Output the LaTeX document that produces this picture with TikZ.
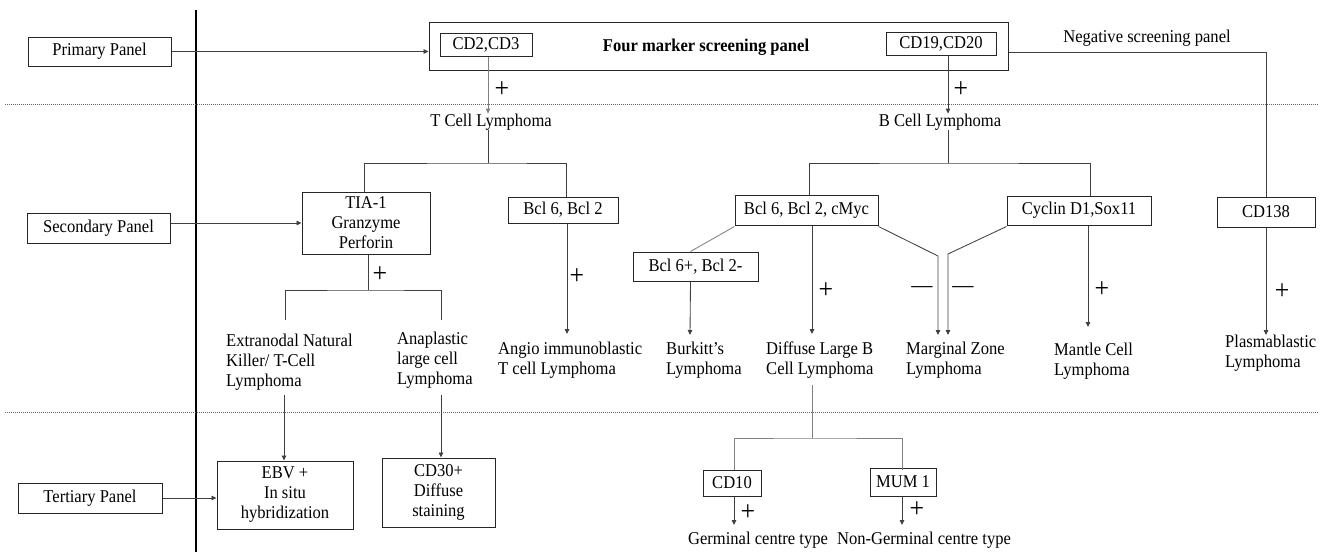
\documentclass[tikz,border=0pt]{standalone}
\usepackage{fontspec}
\setmainfont{Liberation Serif}[FakeStretch=0.92]
\usetikzlibrary{arrows.meta,calc}
\newcommand\myfs{\fontsize{18}{20}\selectfont}
\newcommand\mypl{\fontsize{28}{28}\selectfont}
\begin{document}
\begin{tikzpicture}[x=1pt,y=-1pt,
  box/.style={draw=black!85, line width=1pt, inner sep=0pt, align=center, font=\myfs},
  lbl/.style={inner sep=0pt, align=left, font=\myfs},
  ctr/.style={inner sep=0pt, align=center, font=\myfs},
  sgn/.style={inner sep=0pt, font=\mypl},
  conn/.style={draw=black!75, line width=0.85pt},
  lconn/.style={draw=black!50, line width=0.85pt},
  arr/.style={conn, -{Triangle[length=5pt,width=4.5pt]}},
  larr/.style={lconn, -{Triangle[length=5pt,width=4.5pt]}},
  sep/.style={draw=black!60, line width=0.6pt, dash pattern=on 1pt off 1pt}]
\useasboundingbox (0,0) rectangle (1328,552);
% separators
\draw[line width=2.4pt] (196,10) -- (196,552);
\draw[sep] (5,104) -- (1318,104);
\draw[sep] (5,412) -- (1318,412);
% panels
\node[box, minimum width=143, minimum height=29] (primary) at (99.5,51.5) {Primary Panel};
\node[box, minimum width=143, minimum height=30] (secondary) at (98.5,228) {Secondary Panel};
\node[box, minimum width=144, minimum height=30] (tertiary) at (90,498) {Tertiary Panel};
% primary level
\node[box, minimum width=579, minimum height=48] (main) at (718.5,46.5) {};
\node[box, minimum width=92, minimum height=23] (cd23) at (486,44.5) {CD2,CD3};
\node[box, minimum width=110, minimum height=23] (cd1920) at (941,44) {CD19,CD20};
\node[ctr, font=\myfs\bfseries] (four) at (706,47) {Four marker screening panel};
\node[ctr] (neg) at (1147,38) {Negative screening panel};
\node[ctr] (tcell) at (491,122) {T Cell Lymphoma};
\node[ctr] (bcell) at (940,122) {B Cell Lymphoma};
% secondary level boxes
\node[box, minimum width=128, minimum height=62] (tia) at (366,223) {TIA-1\\Granzyme\\Perforin};
\node[box, minimum width=110, minimum height=26] (bcl62) at (563,210) {Bcl 6, Bcl 2};
\node[box, minimum width=143, minimum height=30] (cmyc) at (806.5,210) {Bcl 6, Bcl 2, cMyc};
\node[box, minimum width=144, minimum height=29] (cyclin) at (1079,210.5) {Cyclin D1,Sox11};
\node[box, minimum width=98, minimum height=30] (cd138) at (1266,212) {CD138};
\node[box, minimum width=125, minimum height=29] (bcl6p) at (695.5,266.5) {Bcl 6+, Bcl 2-};
% diagnoses
\node[lbl, anchor=west] (ext) at (226,362) {Extranodal Natural\\Killer/ T-Cell\\Lymphoma};
\node[lbl, anchor=west] (ana) at (397,360) {Anaplastic\\large cell\\Lymphoma};
\node[lbl, anchor=west] (angio) at (498,360.5) {Angio immunoblastic\\T cell Lymphoma};
\node[lbl, anchor=west] (burk) at (666,360.5) {Burkitt's\\Lymphoma};
\node[lbl, anchor=west] (dlbcl) at (766,360.5) {Diffuse Large B\\Cell Lymphoma};
\node[lbl, anchor=west] (marg) at (906,360.5) {Marginal Zone\\Lymphoma};
\node[lbl, anchor=west] (mant) at (1054,361) {Mantle Cell\\Lymphoma};
\node[lbl, anchor=west] (plas) at (1225,353) {Plasmablastic\\Lymphoma};
% tertiary level
\node[box, minimum width=136, minimum height=68] (ebv) at (285,495) {EBV +\\In situ\\hybridization};
\node[box, minimum width=113, minimum height=69] (cd30) at (438.5,492.5) {CD30+\\Diffuse\\staining};
\node[box, minimum width=58, minimum height=26] (cd10) at (732,483) {CD10};
\node[box, minimum width=66, minimum height=28] (mum1) at (903,482) {MUM 1};
\node[ctr] (germ) at (758,540) {Germinal centre type};
\node[ctr] (ngerm) at (924,540) {Non-Germinal centre type};
% signs
\node[sgn] (p1) at (502,90) {+};
\node[sgn] (p2) at (961,90) {+};
\node[sgn] (p3) at (380,275) {+};
\node[sgn] (p4) at (577,277) {+};
\node[sgn] (p5) at (826,291) {+};
\node[sgn] (p6) at (1102,290) {+};
\node[sgn] (p7) at (1282,292) {+};
\node[sgn] (p8) at (748,513) {+};
\node[sgn] (p9) at (917,510) {+};
\node[sgn, font=\fontsize{23}{23}\selectfont] (m1) at (922,290) {—};
\node[sgn, font=\fontsize{23}{23}\selectfont] (m2) at (963,290) {—};
% coordinates
\coordinate (tt) at (488,163);
\coordinate (bt) at (948,163);
\coordinate (negc) at (1266,52);
\coordinate (tsplit) at (368,290);
\coordinate (e1) at (285,320);
\coordinate (a1) at (441,320);
\coordinate (e2) at (284,395);
\coordinate (a2) at (441,395);
\coordinate (angioend) at (567,334);
\coordinate (burkend) at (690,335);
\coordinate (dlend) at (812,334);
\coordinate (mz1) at (938,256);
\coordinate (mz1e) at (938,335);
\coordinate (mz2) at (948,254);
\coordinate (mz2e) at (948,335);
\coordinate (mantend) at (1088,327);
\coordinate (plasend) at (1266,335);
\coordinate (d1) at (812,385);
\coordinate (d2) at (812,438);
\coordinate (gend) at (734,525);
\coordinate (ngend) at (902,525);
% connectors: primary
\draw[arr] (primary.east) -- (primary.east -| main.west);
\draw[larr] ($(cd23.south)+(2,0)$) -- ($(cd23.south |- tcell.north)+(2,0)$);
\draw[arr] ($(cd1920.south)+(7,0)$) -- ($(cd1920.south |- bcell.north)+(7,0)$);
\draw[conn] ($(main.east)+(0,5.5)$) -- (negc) -- (cd138.north);
% T branch
\draw[conn] (tcell.south -| tt) -- (tt);
\draw[conn] (tia.north -| 364,0) |- (tt) -| ($(bcl62.north)+(3,0)$);
\draw[arr] (secondary.east |- tia.west) -- (tia.west);
\draw[conn] (tia.south -| tsplit) -- (tsplit);
\draw[conn] (e1) |- (tsplit) -| (a1);
\draw[arr] ($(bcl62.south)+(4,0)$) -- (angioend);
\draw[arr] (e2) -- (ebv.north -| e2);
\draw[arr] (a2) -- (cd30.north -| a2);
\draw[arr] (tertiary.east) -- (tertiary.east -| ebv.west);
% B branch
\draw[conn] (bcell.south -| bt) -- (bt);
\draw[conn] ($(cmyc.north)+(2.5,0)$) |- (bt) -| ($(cyclin.north)+(11,0)$);
\draw[lconn] ($(cmyc.south west)+(0,1)$) -- ($(bcl6p.north)+(-5,0)$);
\draw[arr] ($(bcl6p.south)+(-5,0)$) -- (burkend);
\draw[arr] ($(cmyc.south)+(5.5,0)$) -- (dlend);
\draw[arr] ($(cmyc.south east)+(0,1)$) -- (mz1) -- (mz1e);
\draw[arr] ($(cyclin.south west)+(0,1)$) -- (mz2) -- (mz2e);
\draw[arr] ($(cyclin.south)+(9,0)$) -- (mantend);
\draw[arr] (cd138.south) -- (plasend);
% DLBCL subtypes
\draw[lconn] (d1) -- (d2);
\draw[lconn] (cd10.north -| gend) |- (d2) -| (cd10.north -| ngend);
\draw[arr] (cd10.south -| gend) -- (gend);
\draw[arr] (mum1.south -| ngend) -- (ngend);
\end{tikzpicture}
\end{document}
